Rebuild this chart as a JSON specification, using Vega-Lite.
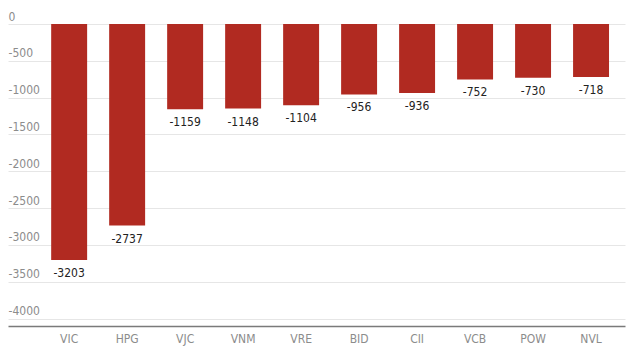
{
  "$schema": "https://vega.github.io/schema/vega-lite/v6.json",
  "width": 617,
  "height": 302,
  "autosize": "none",
  "padding": {"left": 8, "top": 24, "right": 5, "bottom": 31},
  "background": "white",
  "config": {
    "view": {"stroke": null},
    "font": "DejaVu Sans Condensed",
    "locale": {"number": {"decimal": ".", "thousands": "", "grouping": [3], "currency": ["", ""], "minus": "-"}}
  },
  "data": {"values": [
    {"code": "VIC", "value": -3203},
    {"code": "HPG", "value": -2737},
    {"code": "VJC", "value": -1159},
    {"code": "VNM", "value": -1148},
    {"code": "VRE", "value": -1104},
    {"code": "BID", "value": -956},
    {"code": "CII", "value": -936},
    {"code": "VCB", "value": -752},
    {"code": "POW", "value": -730},
    {"code": "NVL", "value": -718}
  ]},
  "encoding": {
    "x": {
      "field": "code", "type": "nominal", "sort": null,
      "scale": {"paddingInner": 0.38, "paddingOuter": 0.51, "align": 0.73},
      "axis": {"title": null, "labelAngle": 0, "ticks": false, "labelPadding": 7, "labelFontSize": 12, "labelColor": "#8c8c8c", "domainColor": "#7a7a7a", "domainWidth": 1.5, "grid": false}
    },
    "y": {
      "field": "value", "type": "quantitative",
      "scale": {"domain": [-4100, 0], "nice": false},
      "axis": {"title": null, "format": "d", "values": [0, -500, -1000, -1500, -2000, -2500, -3000, -3500, -4000], "ticks": false, "domain": false, "labelAlign": "left", "labelPadding": 0, "labelBaseline": "alphabetic", "labelOffset": -4, "labelFontSize": 12, "labelColor": "#8c8c8c", "gridColor": "#e6e6e6", "gridWidth": 1}
    }
  },
  "layer": [
    {"mark": {"type": "bar", "color": "#b12a21"}},
    {"mark": {"type": "text", "baseline": "top", "dy": 8, "fontSize": 12, "color": "#222222"},
     "encoding": {"text": {"field": "value", "type": "quantitative", "format": "d"}}}
  ]
}
